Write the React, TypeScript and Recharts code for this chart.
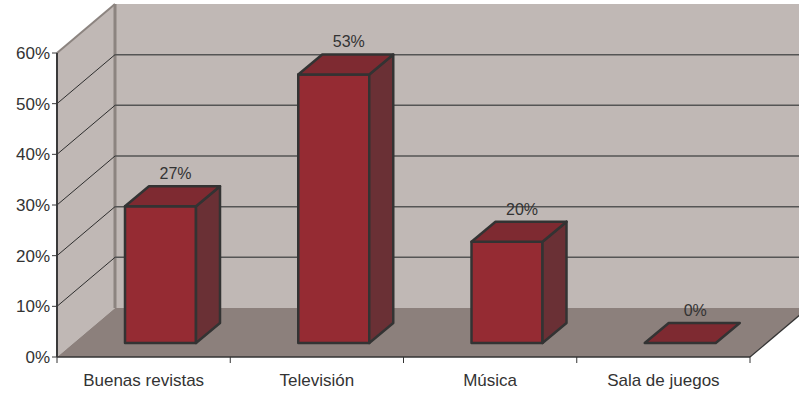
import React from 'react';
import * as R from 'recharts';

const { BarChart, Bar, XAxis, YAxis, CartesianGrid, LabelList } = R;

const categories = ['Buenas revistas', 'Televisión', 'Música', 'Sala de juegos'];
const shares = [0.27, 0.53, 0.2, 0];
const percentTicks = [0, 0.1, 0.2, 0.3, 0.4, 0.5, 0.6];
const innerGridValues = [0.1, 0.2, 0.3, 0.4, 0.5];

const data = categories.map((name, i) => ({ name, value: shares[i] }));

const FONT = '"Liberation Sans", Arial, sans-serif';

// oblique depth of the walls and the boxes
const WALL_DX = 58;
const WALL_DY = -49;
const SHIFT_X = 17;
const SHIFT_Y = -14;
const BOX_DX = 24;
const BOX_DY = -20;

const pct = (v: number) => `${Math.round(v * 100)}%`;

const anyR = R as any;
const usePlotAreaHook = anyR.usePlotArea || (() => {
    const off = anyR.useOffset ? anyR.useOffset() : null;
    const w = anyR.useChartWidth ? anyR.useChartWidth() : null;
    const h = anyR.useChartHeight ? anyR.useChartHeight() : null;
    if (!off || w == null || h == null) return null;
    return { x: off.left, y: off.top, width: w - off.left - off.right, height: h - off.top - off.bottom };
});

function Walls({ area }: { area: { x: number; y: number; width: number; height: number } }) {
    const l = area.x, r = area.x + area.width, t = area.y, b = area.y + area.height;
    const pts = (a: number[][]) => a.map(p => p.join(',')).join(' ');
    return (
        <g>
            <polygon points={pts([[l, t], [l + WALL_DX, t + WALL_DY], [l + WALL_DX, b + WALL_DY], [l, b]])} fill="#c0b8b5" />
            <polygon points={pts([[l + WALL_DX, t + WALL_DY], [r + WALL_DX + 60, t + WALL_DY], [r + WALL_DX + 60, b + WALL_DY], [l + WALL_DX, b + WALL_DY]])} fill="#c0b8b5" />
            <polygon points={pts([[l, b], [r, b], [r + WALL_DX, b + WALL_DY], [l + WALL_DX, b + WALL_DY]])} fill="#8c807c" />
            <line x1={l} y1={t} x2={l + WALL_DX} y2={t + WALL_DY} stroke="#8c8480" strokeWidth={2} />
            <line x1={l + WALL_DX} y1={t + WALL_DY} x2={l + WALL_DX} y2={b + WALL_DY} stroke="#8c8480" strokeWidth={3} />
            <line x1={r} y1={b} x2={r + WALL_DX} y2={b + WALL_DY} stroke="#333" strokeWidth={1.2} />
        </g>
    );
}

// grid line renderer: the first call also paints the walls and floor underneath
function GridLine(props: any) {
    const { x1, x2, y1, index } = props;
    const area = usePlotAreaHook();
    return (
        <g>
            {index === 0 && area && <Walls area={area} />}
            <line x1={x1} y1={y1} x2={x1 + WALL_DX} y2={y1 + WALL_DY} stroke="#2e2e2e" strokeWidth={1} />
            <line x1={x1 + WALL_DX} y1={y1 + WALL_DY} x2={x2 + WALL_DX + 60} y2={y1 + WALL_DY} stroke="#555" strokeWidth={1.5} />
        </g>
    );
}

function Box3D(props: any) {
    const { x, y, width, height } = props;
    if (typeof x !== 'number' || typeof y !== 'number') return null;
    const h = Math.max(height || 0, 0);
    const fx = x + SHIFT_X, fy = y + SHIFT_Y;
    const top = `${fx},${fy} ${fx + BOX_DX},${fy + BOX_DY} ${fx + width + BOX_DX},${fy + BOX_DY} ${fx + width},${fy}`;
    const side = `${fx + width},${fy} ${fx + width + BOX_DX},${fy + BOX_DY} ${fx + width + BOX_DX},${fy + h + BOX_DY} ${fx + width},${fy + h}`;
    return (
        <g stroke="#333" strokeWidth={2.5} strokeLinejoin="round">
            {h > 0 && <rect x={fx} y={fy} width={width} height={h} fill="#952b33" />}
            {h > 0 && <polygon points={side} fill="#6a3035" />}
            <polygon points={top} fill="#7e2a31" />
        </g>
    );
}

function TopLabel(props: any) {
    const { x, y, width, value } = props;
    const cx = Number(x) + Number(width) / 2 + SHIFT_X + BOX_DX / 2 + 3;
    const cy = Number(y) + SHIFT_Y + BOX_DY - 7;
    return (
        <text x={cx} y={cy} textAnchor="middle" fill="#333" fontSize={16} fontFamily={FONT}>
            {pct(Number(value))}
        </text>
    );
}

function CategoryTick(props: any) {
    const { x, y, payload, index, width, visibleTicksCount } = props;
    const band = width / (visibleTicksCount || categories.length);
    const axisY = y - 8;
    return (
        <g>
            <line x1={x - band / 2} y1={axisY} x2={x - band / 2} y2={axisY + 6} stroke="#333" />
            {index === categories.length - 1 && (
                <line x1={x + band / 2} y1={axisY} x2={x + band / 2} y2={axisY + 6} stroke="#333" />
            )}
            <text x={x} y={axisY + 29} textAnchor="middle" fill="#333" fontSize={17} fontFamily={FONT}>
                {payload.value}
            </text>
        </g>
    );
}

export default function App() {
    document.body.style.margin = '0';
    return (
        <div style={{ width: 799, height: 394, background: '#fff' }}>
            <BarChart width={799} height={394} data={data} margin={{ top: 53, right: 49, bottom: 0, left: 0 }} barSize={71}>
                <CartesianGrid vertical={false} horizontalValues={innerGridValues} horizontal={<GridLine />} />
                <XAxis dataKey="name" height={37} interval={0} tickLine={false} tickSize={6} tickMargin={2}
                    axisLine={{ stroke: '#333', strokeWidth: 1.5 }} tick={<CategoryTick />} />
                <YAxis type="number" domain={[0, 0.6]} ticks={percentTicks} interval={0} width={57} tickSize={5}
                    tickFormatter={pct} axisLine={{ stroke: '#3a3a3a', strokeWidth: 2 }} tickLine={{ stroke: '#3a3a3a' }}
                    tick={{ fill: '#333', fontSize: 17, fontFamily: FONT }} />
                <Bar dataKey="value" isAnimationActive={false} shape={<Box3D />}>
                    <LabelList dataKey="value" content={<TopLabel />} />
                </Bar>
            </BarChart>
        </div>
    );
}
